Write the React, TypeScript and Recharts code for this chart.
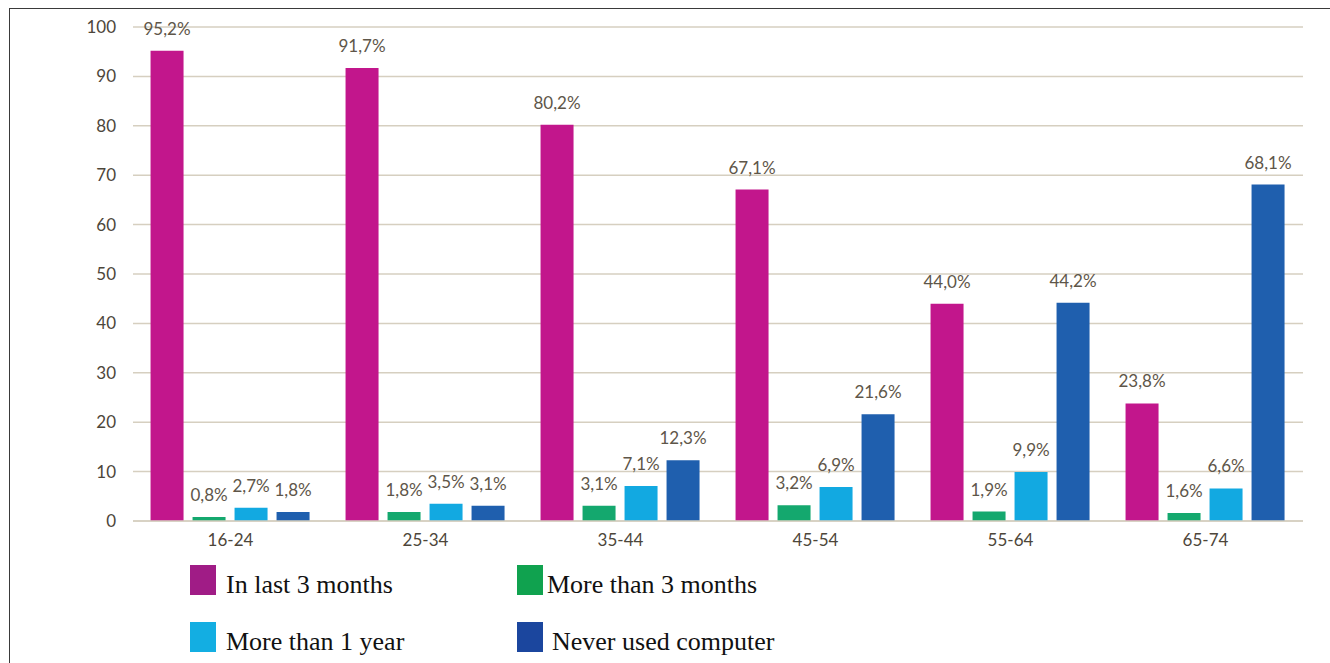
import { BarChart, Bar, XAxis, YAxis, CartesianGrid, LabelList } from 'recharts';

const ageGroups = ['16-24', '25-34', '35-44', '45-54', '55-64', '65-74'];

const lastThreeMonths = [95.2, 91.7, 80.2, 67.1, 44.0, 23.8];
const moreThanThreeMonths = [0.8, 1.8, 3.1, 3.2, 1.9, 1.6];
const moreThanOneYear = [2.7, 3.5, 7.1, 6.9, 9.9, 6.6];
const neverUsed = [1.8, 3.1, 12.3, 21.6, 44.2, 68.1];

const yTicks = [0, 10, 20, 30, 40, 50, 60, 70, 80, 90, 100];

const series = [
  { key: 'last3', name: 'In last 3 months', values: lastThreeMonths, fill: '#C2168C', swatch: '#A01C86' },
  { key: 'more3', name: 'More than 3 months', values: moreThanThreeMonths, fill: '#14A86E', swatch: '#10A24F' },
  { key: 'more1y', name: 'More than 1 year', values: moreThanOneYear, fill: '#12A9E1', swatch: '#13AEE2' },
  { key: 'never', name: 'Never used computer', values: neverUsed, fill: '#1F5FAE', swatch: '#1B469E' },
];

const data = ageGroups.map((age, i) => {
  const row: Record<string, string | number> = { age };
  series.forEach((s) => {
    row[s.key] = s.values[i];
  });
  return row;
});

const pct = (v: any) => `${Number(v).toFixed(1).replace('.', ',')}%`;

const sansFont = 'Lato, "Open Sans", sans-serif';

// two-column legend under the plot, serif like the original report
function LegendBlock() {
  return (
    <div style={{ position: 'absolute', left: 190, top: 565, width: 700, height: 110, fontFamily: '"Liberation Serif", "Times New Roman", serif', fontSize: 26, color: '#111' }}>
      {series.map((s, i) => {
        const col = i % 2;
        const row = Math.floor(i / 2);
        return (
          <div
            key={s.key}
            style={{ position: 'absolute', left: col === 0 ? 0 : 327, top: row * 57, display: 'flex', alignItems: 'flex-end', whiteSpace: 'nowrap' }}
          >
            <span style={{ display: 'inline-block', width: 26, height: 30, background: s.swatch, marginRight: col === 0 ? 10 : i === 3 ? 9 : 4 }} />
            <span style={{ lineHeight: '26px', marginBottom: -3 }}>{s.name}</span>
          </div>
        );
      })}
    </div>
  );
}

export default function App() {
  return (
    <div style={{ position: 'absolute', left: 0, top: 0, width: 1330, height: 663, background: '#fff', overflow: 'hidden' }}>
      {/* frame lines along the top and left edge */}
      <div style={{ position: 'absolute', left: 9, top: 8, width: 1330, height: 700, borderTop: '1.5px solid #3a3a3a', borderLeft: '1.5px solid #3a3a3a' }} />
      <BarChart
        width={1330}
        height={663}
        data={data}
        margin={{ top: 27, right: 27, bottom: 112, left: 0 }}
        barCategoryGap="9%"
        barGap={9}
        style={{ position: 'absolute', left: 0, top: 0 }}
      >
        <CartesianGrid vertical={false} stroke="#D6CFC0" strokeWidth={1.5} />
        <XAxis
          dataKey="age"
          height={30}
          axisLine={{ stroke: '#D6CFC0', strokeWidth: 1.5 }}
          tickLine={false}
          tickSize={0}
          tickMargin={13}
          tick={{ fill: '#4d463a', fontSize: 17, fontFamily: sansFont }}
        />
        <YAxis
          width={133}
          domain={[0, 100]}
          ticks={yTicks}
          axisLine={false}
          tickLine={false}
          tickSize={0}
          tickMargin={17}
          tick={{ fill: '#4d463a', fontSize: 17, fontFamily: sansFont }}
        />
        {series.map((s) => (
          <Bar key={s.key} dataKey={s.key} name={s.name} fill={s.fill} isAnimationActive={false}>
            <LabelList
              dataKey={s.key}
              position="top"
              offset={16}
              formatter={pct}
              style={{ fill: '#5e5649', fontSize: 17, fontFamily: sansFont }}
            />
          </Bar>
        ))}
      </BarChart>
      <LegendBlock />
    </div>
  );
}
